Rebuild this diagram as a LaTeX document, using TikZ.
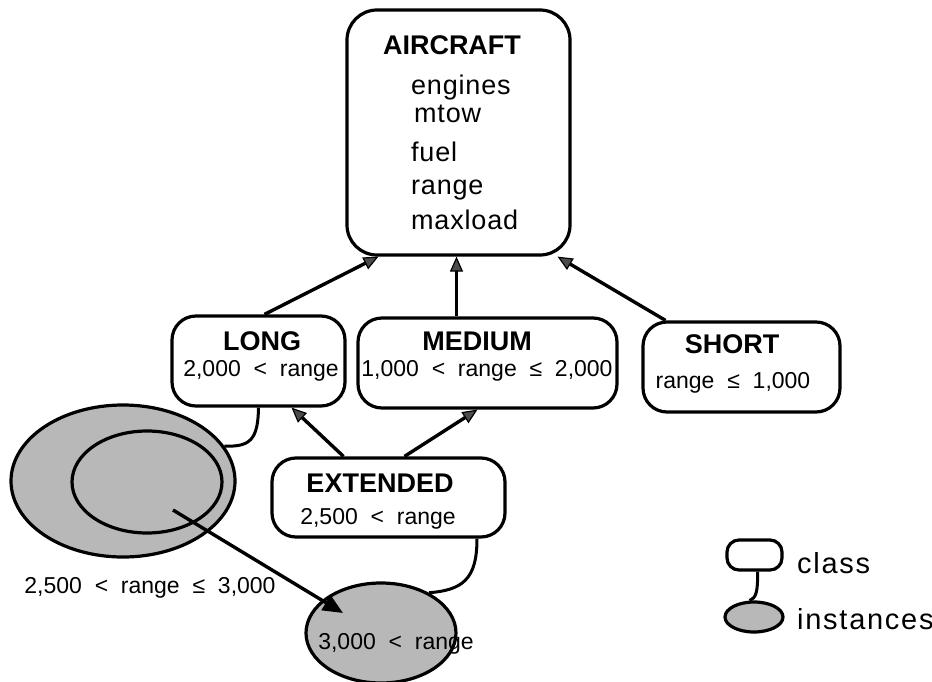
\documentclass[tikz,border=0pt]{standalone}
\usepackage{fontspec}
\setmainfont{Liberation Sans}
\newfontfamily\labfont{Liberation Sans}[WordSpace=2]
\newfontfamily\attrfont{Liberation Sans}[LetterSpace=3]
\newfontfamily\legfont{Liberation Sans}[LetterSpace=6]
\usetikzlibrary{arrows.meta,shapes.geometric}
\tikzset{
  classbox/.style={draw, line width=3.2pt, rounded corners=24pt, inner sep=0pt},
  titletext/.style={font=\bfseries\fontsize{27}{30}\selectfont, anchor=base, inner sep=0pt},
  labtext/.style={font=\labfont\fontsize{23}{26}\selectfont, anchor=base, inner sep=0pt},
  attrtext/.style={font=\attrfont\fontsize{27}{30}\selectfont, anchor=base west, inner sep=0pt},
  legtext/.style={font=\legfont\fontsize{29}{34}\selectfont, anchor=base west, inner sep=0pt},
  isa/.style={line width=3.4pt, -{Triangle[length=15pt,width=13pt,fill=black!70,line width=1.2pt]}},
  inst/.style={draw, ellipse, line width=3.2pt, fill=black!28, inner sep=0pt},
  link/.style={line width=3pt},
  member/.style={line width=3.4pt, -{Triangle[length=20pt,width=17pt]}}
}
\begin{document}
\begin{tikzpicture}[x=1pt,y=-1pt]
\useasboundingbox (0,0) rectangle (932,682);

% AIRCRAFT
\node[classbox, minimum width=223pt, minimum height=245pt, rounded corners=30pt] (aircraft) at (458.5,132.5) {};
\node[titletext] (tair) at (452,55) {AIRCRAFT};
\node[attrtext] (aeng) at (411,95) {engines};
\node[attrtext] (amtow) at (414,123) {mtow};
\node[attrtext] (afuel) at (411,162) {fuel};
\node[attrtext] (arange) at (411,194) {range};
\node[attrtext] (amax) at (411,229) {maxload};

% LONG
\node[classbox, minimum width=173pt, minimum height=90pt] (long) at (258.5,361) {};
\node[titletext] (tlong) at (262,350) {LONG};
\node[labtext] (llong) at (261,376) {2,000 < range};

% MEDIUM
\node[classbox, minimum width=259pt, minimum height=90pt] (medium) at (487.5,363) {};
\node[titletext] (tmed) at (477,350) {MEDIUM};
\node[labtext] (lmed) at (487,376) {1,000 < range ≤ 2,000};

% SHORT
\node[classbox, minimum width=197pt, minimum height=90pt] (short) at (741.5,367) {};
\node[titletext] (tshort) at (732,353) {SHORT};
\node[labtext] (lshort) at (733,388) {range ≤ 1,000};

% EXTENDED
\node[classbox, minimum width=233pt, minimum height=79pt] (ext) at (388.5,497.5) {};
\node[titletext] (text) at (380,492) {EXTENDED};
\node[labtext] (lext) at (378,524) {2,500 < range};

% is-a arrows
\draw[isa] ([xshift=6pt]long.north) -- ([xshift=-80pt]aircraft.south);
\draw[isa] ([xshift=-31pt]medium.north) -- ([xshift=-2pt]aircraft.south);
\draw[isa] ([xshift=-76pt]short.north) -- ([xshift=99pt]aircraft.south);
\draw[isa] ([xshift=-45pt]ext.north) -- ([xshift=33pt]long.south);
\draw[isa] ([xshift=16pt]ext.north) -- ([xshift=-10pt]medium.south);

% instances
\node[inst, minimum width=224pt, minimum height=152pt] (outer) at (123,481) {};
\node[inst, minimum width=150pt, minimum height=102pt] (inner) at (147,482) {};
\node[inst, minimum width=150pt, minimum height=100pt] (small) at (381,633) {};

\draw[link] (long.south) .. controls (258,440) and (250,447) .. (outer.19);
\draw[link] ([xshift=88.5pt]ext.south) .. controls (477,580) and (462,590) .. (small.40);

\coordinate (mstart) at (173,510);
\coordinate (mend) at (343,613);
\draw[member] (mstart) -- (mend);

\node[labtext] (l25) at (150,593) {2,500 < range ≤ 3,000};
\node[labtext] (l30) at (396,649) {3,000 < range};

% legend
\node[classbox, minimum width=55pt, minimum height=30pt, rounded corners=12pt] (legc) at (754.5,555) {};
\node[inst, minimum width=58pt, minimum height=30pt] (legi) at (754,617) {};
\draw[link] ([xshift=3pt]legc.south) .. controls (758,592) and (756,598) .. (legi.105);
\node[legtext] (lclass) at (797,573) {class};
\node[legtext] (linst) at (797,629) {instances};
\end{tikzpicture}
\end{document}
